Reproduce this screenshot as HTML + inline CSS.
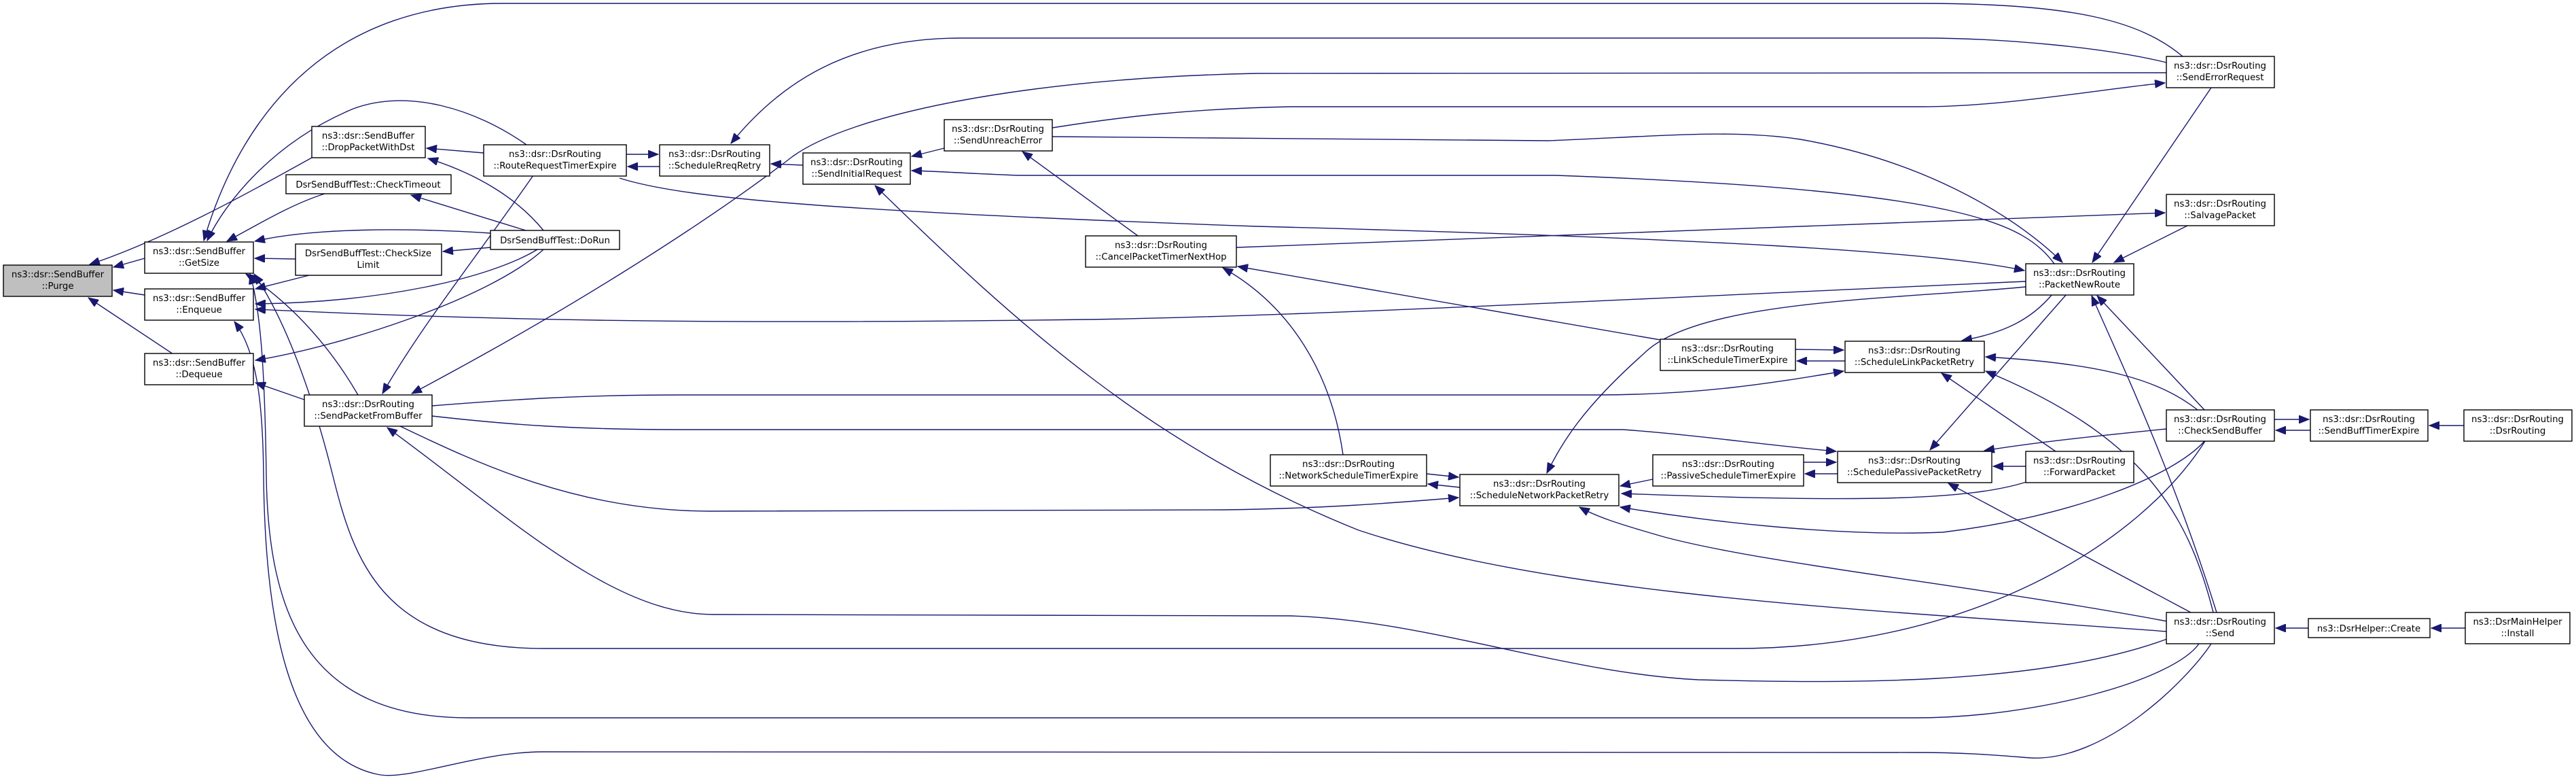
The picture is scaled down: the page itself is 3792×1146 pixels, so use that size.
<!DOCTYPE html>
<html><head><meta charset="utf-8"><style>
html,body{margin:0;padding:0;background:#fff;}
svg{display:block;}
text{font-family:"DejaVu Sans","Liberation Sans",sans-serif;font-size:13.3px;fill:#000;}
.e{fill:none;stroke:#191970;stroke-width:1.4;}
.n{fill:#fff;stroke:#000;stroke-width:1.4;}
</style></head><body>
<svg width="3792" height="1146" viewBox="0 0 3792 1146" xmlns="http://www.w3.org/2000/svg">
<defs>
<marker id="a" markerUnits="userSpaceOnUse" markerWidth="16" markerHeight="12" refX="15" refY="6" orient="auto">
<path d="M0,0 L15,6 L0,12 z" fill="#191970" stroke="#191970"/>
</marker>
</defs>
<g class="e" marker-end="url(#a)">
<path d="M213,380 L167,393"/>
<path d="M213,434 L167,427"/>
<path d="M255,521 L130,438"/>
<path d="M459,232 C390,270 250,350 132,389"/>
<path d="M712,225 L628,218"/>
<path d="M800,339 C760,290 700,255 630,233"/>
<path d="M774,339 L605,287"/>
<path d="M478,285 C430,300 380,330 334,355"/>
<path d="M722,343 C600,335 460,335 375,355"/>
<path d="M435,381 L375,380"/>
<path d="M722,364 L652,370"/>
<path d="M455,405 L376,425"/>
<path d="M791,367 C720,410 560,445 376,447"/>
<path d="M2982,414 C2400,440 1900,466 1600,470 C1000,478 700,470 376,455"/>
<path d="M800,367 C720,440 500,510 376,530"/>
<path d="M448,588 L376,563"/>
<path d="M527,581 C480,500 420,440 362,403"/>
<path d="M3255,947 C3220,1000 3100,1120 2990,1115 C2950,1112 2900,1107 2820,1107 L800,1106 C700,1106 600,1150 555,1139 C420,1110 390,900 388,700 C387,600 380,520 345,473"/>
<path d="M3237,947 C3200,1000 3000,1056 2820,1056 L690,1056 C450,1056 395,900 392,700 C390,560 385,460 368,403"/>
<path d="M3246,649 C3150,800 2900,954 2555,954 L800,954 C560,954 520,820 490,700 C460,580 420,470 374,403"/>
<path d="M3190,940 C3000,1010 2700,1005 2500,1000 C2300,990 2100,912 1900,906 L1050,904 C900,904 750,760 570,629"/>
<path d="M589,627 C700,680 850,752 1045,752 L1800,750 C1950,748 2050,740 2147,732"/>
<path d="M636,597 C750,588 850,581 1000,581 L2347,581 C2500,581 2600,565 2714,546"/>
<path d="M636,612 C750,625 850,632 1000,632 L2389,632 C2500,640 2600,655 2703,664"/>
<path d="M785,258 C700,380 620,480 563,579"/>
<path d="M775,213 C700,160 600,130 520,160 C400,210 330,300 305,354"/>
<path d="M3213,83 C3150,30 3050,5 2830,5 L740,5 C500,5 360,150 300,354"/>
<path d="M3189,92 C3100,70 2950,56 2830,56 L1415,56 C1250,56 1150,120 1076,211"/>
<path d="M3189,107 L1850,108 C1500,115 1250,170 1167,230 C1050,320 850,450 606,579"/>
<path d="M1549,188 C1650,172 1750,160 1900,157 L2830,157 C2950,157 3100,130 3187,122"/>
<path d="M1549,201 L2280,207 C2450,200 2550,190 2650,205 C2850,240 2980,330 3036,386"/>
<path d="M3024,388 C2980,330 2900,280 2290,258 L1500,258 C1420,255 1380,252 1342,251"/>
<path d="M912,262 C1000,290 1200,310 1850,333 C2500,350 2850,370 2980,398"/>
<path d="M1820,364 L3187,313"/>
<path d="M3255,129 L3080,386"/>
<path d="M3220,332 L3112,386"/>
<path d="M922,227 L969,227"/>
<path d="M971,245 L924,245"/>
<path d="M1182,243 L1135,241"/>
<path d="M1390,218 L1342,230"/>
<path d="M1675,347 L1505,223"/>
<path d="M3190,929 C2800,900 2300,880 2000,780 C1700,660 1500,480 1288,273"/>
<path d="M2444,500 L1822,392"/>
<path d="M1977,669 C1960,550 1900,450 1800,394"/>
<path d="M2982,422 C2800,440 2500,440 2420,520 C2330,600 2300,650 2277,696"/>
<path d="M2643,514 L2714,515"/>
<path d="M2716,531 L2645,531"/>
<path d="M3021,433 C2990,470 2950,490 2888,501"/>
<path d="M3042,433 L2841,662"/>
<path d="M3245,603 L3087,435"/>
<path d="M3263,901 C3200,700 3130,550 3079,435"/>
<path d="M3225,901 L2868,711"/>
<path d="M2982,686 L2934,686"/>
<path d="M3026,664 L2858,549"/>
<path d="M3235,603 C3180,560 3100,535 2923,525"/>
<path d="M3258,901 C3220,750 3150,640 2923,546"/>
<path d="M3189,631 C3100,640 3000,650 2921,663"/>
<path d="M3245,649 C3200,700 3050,760 2860,783 C2700,790 2500,765 2385,746"/>
<path d="M2983,709 C2900,735 2750,740 2387,726"/>
<path d="M3190,914 C2900,860 2600,830 2450,790 C2380,770 2350,760 2325,746"/>
<path d="M2100,697 L2147,702"/>
<path d="M2149,717 L2102,712"/>
<path d="M2433,705 L2385,715"/>
<path d="M2655,680 L2703,680"/>
<path d="M2705,697 L2657,697"/>
<path d="M3348,617 L3399,617"/>
<path d="M3401,633 L3350,633"/>
<path d="M3627,626 L3576,626"/>
<path d="M3398,924 L3350,924"/>
<path d="M3629,924 L3579,924"/>
</g>
<g>
<rect class="n" x="5" y="390" width="160" height="46" style="fill:#bfbfbf"/>
<text x="85" y="408" text-anchor="middle">ns3::dsr::SendBuffer</text><text x="85" y="425" text-anchor="middle">::Purge</text>
<rect class="n" x="213" y="356" width="160" height="46"/>
<text x="293" y="374" text-anchor="middle">ns3::dsr::SendBuffer</text><text x="293" y="391" text-anchor="middle">::GetSize</text>
<rect class="n" x="213" y="425" width="160" height="46"/>
<text x="293" y="443" text-anchor="middle">ns3::dsr::SendBuffer</text><text x="293" y="460" text-anchor="middle">::Enqueue</text>
<rect class="n" x="213" y="520" width="160" height="46"/>
<text x="293" y="538" text-anchor="middle">ns3::dsr::SendBuffer</text><text x="293" y="555" text-anchor="middle">::Dequeue</text>
<rect class="n" x="459" y="186" width="167" height="46"/>
<text x="542" y="204" text-anchor="middle">ns3::dsr::SendBuffer</text><text x="542" y="221" text-anchor="middle">::DropPacketWithDst</text>
<rect class="n" x="421" y="257" width="243" height="28"/>
<text x="542" y="276" text-anchor="middle">DsrSendBuffTest::CheckTimeout</text>
<rect class="n" x="435" y="359" width="215" height="46"/>
<text x="542" y="377" text-anchor="middle">DsrSendBuffTest::CheckSize</text><text x="542" y="394" text-anchor="middle">Limit</text>
<rect class="n" x="712" y="213" width="210" height="46"/>
<text x="817" y="231" text-anchor="middle">ns3::dsr::DsrRouting</text><text x="817" y="248" text-anchor="middle">::RouteRequestTimerExpire</text>
<rect class="n" x="722" y="339" width="190" height="28"/>
<text x="817" y="358" text-anchor="middle">DsrSendBuffTest::DoRun</text>
<rect class="n" x="448" y="581" width="188" height="46"/>
<text x="542" y="599" text-anchor="middle">ns3::dsr::DsrRouting</text><text x="542" y="616" text-anchor="middle">::SendPacketFromBuffer</text>
<rect class="n" x="971" y="213" width="162" height="46"/>
<text x="1052" y="231" text-anchor="middle">ns3::dsr::DsrRouting</text><text x="1052" y="248" text-anchor="middle">::ScheduleRreqRetry</text>
<rect class="n" x="1182" y="225" width="158" height="46"/>
<text x="1261" y="243" text-anchor="middle">ns3::dsr::DsrRouting</text><text x="1261" y="260" text-anchor="middle">::SendInitialRequest</text>
<rect class="n" x="1390" y="176" width="159" height="46"/>
<text x="1469" y="194" text-anchor="middle">ns3::dsr::DsrRouting</text><text x="1469" y="211" text-anchor="middle">::SendUnreachError</text>
<rect class="n" x="1598" y="347" width="222" height="46"/>
<text x="1709" y="365" text-anchor="middle">ns3::dsr::DsrRouting</text><text x="1709" y="382" text-anchor="middle">::CancelPacketTimerNextHop</text>
<rect class="n" x="3189" y="83" width="159" height="46"/>
<text x="3268" y="101" text-anchor="middle">ns3::dsr::DsrRouting</text><text x="3268" y="118" text-anchor="middle">::SendErrorRequest</text>
<rect class="n" x="3189" y="286" width="159" height="46"/>
<text x="3268" y="304" text-anchor="middle">ns3::dsr::DsrRouting</text><text x="3268" y="321" text-anchor="middle">::SalvagePacket</text>
<rect class="n" x="2982" y="388" width="159" height="46"/>
<text x="3061" y="406" text-anchor="middle">ns3::dsr::DsrRouting</text><text x="3061" y="423" text-anchor="middle">::PacketNewRoute</text>
<rect class="n" x="2444" y="499" width="199" height="46"/>
<text x="2543" y="517" text-anchor="middle">ns3::dsr::DsrRouting</text><text x="2543" y="534" text-anchor="middle">::LinkScheduleTimerExpire</text>
<rect class="n" x="2716" y="502" width="205" height="46"/>
<text x="2818" y="520" text-anchor="middle">ns3::dsr::DsrRouting</text><text x="2818" y="537" text-anchor="middle">::ScheduleLinkPacketRetry</text>
<rect class="n" x="1870" y="669" width="230" height="46"/>
<text x="1985" y="687" text-anchor="middle">ns3::dsr::DsrRouting</text><text x="1985" y="704" text-anchor="middle">::NetworkScheduleTimerExpire</text>
<rect class="n" x="2149" y="698" width="234" height="46"/>
<text x="2266" y="716" text-anchor="middle">ns3::dsr::DsrRouting</text><text x="2266" y="733" text-anchor="middle">::ScheduleNetworkPacketRetry</text>
<rect class="n" x="2433" y="669" width="222" height="46"/>
<text x="2544" y="687" text-anchor="middle">ns3::dsr::DsrRouting</text><text x="2544" y="704" text-anchor="middle">::PassiveScheduleTimerExpire</text>
<rect class="n" x="2705" y="664" width="227" height="46"/>
<text x="2818" y="682" text-anchor="middle">ns3::dsr::DsrRouting</text><text x="2818" y="699" text-anchor="middle">::SchedulePassivePacketRetry</text>
<rect class="n" x="2982" y="664" width="159" height="46"/>
<text x="3061" y="682" text-anchor="middle">ns3::dsr::DsrRouting</text><text x="3061" y="699" text-anchor="middle">::ForwardPacket</text>
<rect class="n" x="3189" y="603" width="159" height="46"/>
<text x="3268" y="621" text-anchor="middle">ns3::dsr::DsrRouting</text><text x="3268" y="638" text-anchor="middle">::CheckSendBuffer</text>
<rect class="n" x="3401" y="603" width="173" height="46"/>
<text x="3487" y="621" text-anchor="middle">ns3::dsr::DsrRouting</text><text x="3487" y="638" text-anchor="middle">::SendBuffTimerExpire</text>
<rect class="n" x="3627" y="603" width="159" height="46"/>
<text x="3706" y="621" text-anchor="middle">ns3::dsr::DsrRouting</text><text x="3706" y="638" text-anchor="middle">::DsrRouting</text>
<rect class="n" x="3189" y="901" width="159" height="46"/>
<text x="3268" y="919" text-anchor="middle">ns3::dsr::DsrRouting</text><text x="3268" y="936" text-anchor="middle">::Send</text>
<rect class="n" x="3398" y="910" width="179" height="28"/>
<text x="3487" y="929" text-anchor="middle">ns3::DsrHelper::Create</text>
<rect class="n" x="3629" y="901" width="154" height="46"/>
<text x="3706" y="919" text-anchor="middle">ns3::DsrMainHelper</text><text x="3706" y="936" text-anchor="middle">::Install</text>
</g>
</svg>
</body></html>
